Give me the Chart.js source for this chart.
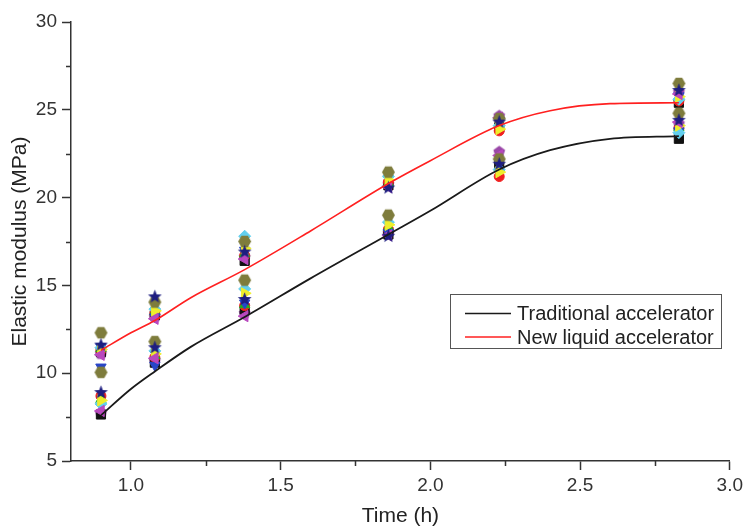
<!DOCTYPE html>
<html>
<head>
<meta charset="utf-8">
<script src="https://cdn.jsdelivr.net/npm/chart.js@4"></script>
<style>
  body { margin: 0; background: #fff; }
  #wrap { width: 747px; height: 529px; }
</style>
</head>
<body>
<div id="wrap"><canvas id="myChart" width="747" height="529"></canvas></div>
<script>
// measurement times (h)
var times = [0.9, 1.08, 1.38, 1.86, 2.23, 2.83];

// fitted curves
var curveX = [0.9, 1.0, 1.08, 1.2, 1.38, 1.6, 1.86, 2.0, 2.23, 2.4, 2.6, 2.83];
var tradCurve = [7.6, 9.1, 10.1, 11.5, 13.2, 15.4, 17.9, 19.25, 21.6, 22.7, 23.35, 23.5];
var newCurve = [11.3, 12.3, 13.0, 14.3, 15.9, 18.1, 20.8, 22.1, 24.1, 24.95, 25.35, 25.4];

// individual specimens, traditional accelerator
var squareTrad = [7.65, 10.6, 13.6, 17.9, 21.8, 23.35];
var circleTrad = [8.7, 10.9, 13.85, 18.2, 21.2, 23.95];
var upTrad = [8.5, 11.0, 13.9, 18.3, 21.7, 24.0];
var downTrad = [10.35, 10.45, 14.0, 18.0, 22.0, 23.8];
var diamondTrad = [8.25, 11.27, 14.8, 18.6, 21.6, 23.7];
var leftTrad = [7.85, 10.85, 13.25, 17.85, 22.4, 24.3];
var rightTrad = [8.45, 11.1, 14.55, 18.45, 21.45, 24.1];
var hexTrad = [10.05, 11.8, 15.3, 19.0, 22.2, 24.8];
var starTrad = [8.9, 11.45, 14.2, 17.8, 21.9, 24.4];
var pentTrad = [7.7, 10.7, 13.4, 17.95, 22.6, 24.2];

// individual specimens, new liquid accelerator
var squareNew = [11.2, 13.3, 16.4, 20.7, 24.0, 25.4];
var circleNew = [11.3, 13.4, 16.7, 20.9, 23.8, 25.5];
var upNew = [11.4, 13.5, 16.8, 20.8, 24.2, 25.7];
var downNew = [11.5, 13.2, 17.0, 21.1, 24.4, 25.8];
var diamondNew = [11.45, 13.65, 17.8, 21.2, 24.1, 25.6];
var leftNew = [11.05, 13.1, 16.5, 20.6, 24.55, 25.9];
var rightNew = [11.35, 13.55, 17.1, 21.0, 23.9, 25.75];
var hexNew = [12.3, 14.05, 17.5, 21.45, 24.5, 26.5];
var starNew = [11.6, 14.35, 16.9, 20.55, 24.3, 26.1];
var pentNew = [11.1, 13.2, 16.6, 20.75, 24.65, 26.0];

var fontFamily = '"Liberation Sans", Arial, sans-serif';

var polygonMarker = (color, sides, outer, inner, rot) => {
    var size = Math.ceil(outer * 2 + 2);
    var c = document.createElement('canvas');
    c.width = size;
    c.height = size;
    var g = c.getContext('2d');
    var n = inner ? sides * 2 : sides;
    g.beginPath();
    for (var i = 0; i < n; i++) {
        var r = inner && i % 2 ? inner : outer;
        var a = rot + i * 2 * Math.PI / n;
        g.lineTo(size / 2 + r * Math.sin(a), size / 2 - r * Math.cos(a));
    }
    g.closePath();
    g.fillStyle = color;
    g.fill();
    return c;
};

// listed top-most first
var markers = [
    { trad: starTrad, neu: starNew, color: '#1e1e80', style: polygonMarker('#1e1e80', 5, 7.2, 3.1, 0), radius: 6, rotation: 0 },
    { trad: hexTrad, neu: hexNew, color: '#7e7c3c', style: polygonMarker('#7e7c3c', 6, 6.5, 0, Math.PI / 6), radius: 6, rotation: 0 },
    { trad: leftTrad, neu: leftNew, color: '#b848be', style: 'triangle', radius: 6.5, rotation: 270 },
    { trad: rightTrad, neu: rightNew, color: '#eeee2c', style: 'triangle', radius: 6.5, rotation: 90 },
    { trad: diamondTrad, neu: diamondNew, color: '#62cfee', style: 'rectRot', radius: 6, rotation: 0 },
    { trad: downTrad, neu: downNew, color: '#2846c8', style: 'triangle', radius: 6, rotation: 180 },
    { trad: upTrad, neu: upNew, color: '#20b020', style: 'triangle', radius: 6, rotation: 0 },
    { trad: circleTrad, neu: circleNew, color: '#f02020', style: 'circle', radius: 5, rotation: 0 },
    { trad: squareTrad, neu: squareNew, color: '#111111', style: 'rect', radius: 6.5, rotation: 0 },
    { trad: pentTrad, neu: pentNew, color: '#9a48a8', style: polygonMarker('#9a48a8', 5, 6.2, 0, 0), radius: 6, rotation: 0 }
];

var toPoints = (xs, ys) => xs.map((x, i) => ({ x: x, y: ys[i] }));

var datasets = [
    {
        type: 'line', label: 'Traditional accelerator',
        data: toPoints(curveX, tradCurve),
        borderColor: '#1a1a1a', borderWidth: 1.8, pointRadius: 0,
        cubicInterpolationMode: 'monotone', fill: false, order: 0
    },
    {
        type: 'line', label: 'New liquid accelerator',
        data: toPoints(curveX, newCurve),
        borderColor: '#ff2020', borderWidth: 1.6, pointRadius: 0,
        cubicInterpolationMode: 'monotone', fill: false, order: 0
    }
];

markers.forEach(m => {
    datasets.push({
        type: 'scatter',
        data: toPoints(times, m.trad).concat(toPoints(times, m.neu)),
        backgroundColor: m.color, borderColor: m.color, borderWidth: 1,
        pointStyle: m.style, pointRadius: m.radius, pointRotation: m.rotation,
        order: 1
    });
});

var minorTicks = {
    id: 'minorTicks',
    afterDraw: chart => {
        var ctx = chart.ctx;
        var xs = chart.scales.x, ys = chart.scales.y;
        ctx.save();
        ctx.strokeStyle = '#333';
        ctx.lineWidth = 1.5;
        ctx.beginPath();
        for (var v = 1.25; v < 3; v += 0.5) {
            var px = Math.round(xs.getPixelForValue(v)) + 0.5;
            ctx.moveTo(px, ys.bottom);
            ctx.lineTo(px, ys.bottom + 5);
        }
        for (var w = 7.5; w < 30; w += 5) {
            var py = Math.round(ys.getPixelForValue(w)) + 0.5;
            ctx.moveTo(xs.left, py);
            ctx.lineTo(xs.left - 5, py);
        }
        ctx.stroke();
        ctx.restore();
    }
};

var boxLegend = {
    id: 'boxLegend',
    afterDraw: chart => {
        var ctx = chart.ctx;
        var lines = chart.data.datasets.filter(d => d.type === 'line');
        ctx.save();
        ctx.strokeStyle = '#555';
        ctx.lineWidth = 1;
        ctx.strokeRect(450.5, 294.5, 271, 54);
        ctx.font = '20px ' + fontFamily;
        ctx.textBaseline = 'middle';
        ctx.fillStyle = '#222';
        lines.forEach((d, i) => {
            var y = 313.5 + i * 23.5;
            ctx.strokeStyle = d.borderColor;
            ctx.lineWidth = 1.5;
            ctx.beginPath();
            ctx.moveTo(465, y);
            ctx.lineTo(511, y);
            ctx.stroke();
            ctx.fillText(d.label, 517, y + 1);
        });
        ctx.restore();
    }
};

var ctx = document.getElementById('myChart').getContext('2d');

var myChart = new Chart(ctx, {
    type: 'scatter',
    data: { datasets: datasets },
    options: {
        responsive: false,
        animation: false,
        layout: { padding: { left: 0, right: 15, top: 22, bottom: 0 } },
        plugins: { legend: { display: false }, tooltip: { enabled: false } },
        scales: {
            x: {
                type: 'linear', min: 0.8, max: 3.0,
                afterBuildTicks: scale => {
                    scale.ticks = scale.ticks.filter(t => Math.abs(t.value * 2 - Math.round(t.value * 2)) < 1e-6);
                },
                afterFit: scale => { scale.height = 68; },
                ticks: {
                    stepSize: 0.5, padding: 4, color: '#333',
                    font: { size: 19, family: fontFamily },
                    callback: v => v.toFixed(1)
                },
                grid: { drawOnChartArea: false, tickLength: 9, color: '#333', tickWidth: 1.5 },
                border: { color: '#333', width: 1.5 },
                title: {
                    display: true, text: 'Time (h)', color: '#222',
                    font: { size: 21, family: fontFamily },
                    padding: { top: 0, bottom: 0 }
                }
            },
            y: {
                min: 5, max: 30,
                afterFit: scale => { scale.width = 71; },
                ticks: {
                    stepSize: 5, padding: 5, color: '#333',
                    font: { size: 19, family: fontFamily }
                },
                grid: { drawOnChartArea: false, tickLength: 9, color: '#333', tickWidth: 1.5 },
                border: { color: '#333', width: 1.5 },
                title: {
                    display: true, text: 'Elastic modulus (MPa)', color: '#222',
                    font: { size: 21, family: fontFamily },
                    padding: { top: 8, bottom: 0 }
                }
            }
        }
    },
    plugins: [minorTicks, boxLegend]
});
</script>
</body>
</html>
